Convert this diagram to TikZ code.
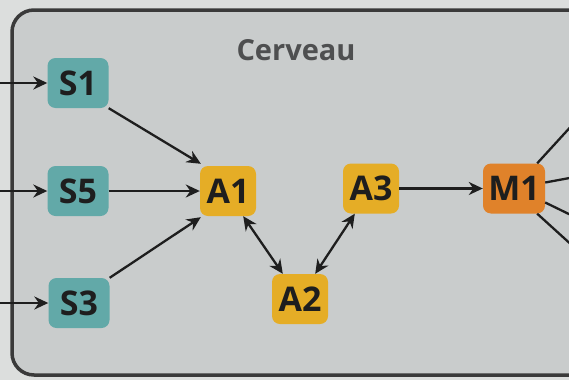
\documentclass[tikz,border=0pt]{standalone}
\usepackage{fontspec}
\setmainfont{Open Sans}
\usetikzlibrary{arrows.meta}
\definecolor{bgin}{HTML}{C9CCCC}
\definecolor{bgout}{HTML}{DCDEDD}
\definecolor{framec}{HTML}{3A3A3A}
\definecolor{tealc}{HTML}{62A9A8}
\definecolor{yellowc}{HTML}{E5AD26}
\definecolor{orangec}{HTML}{E0822A}
\definecolor{inkc}{HTML}{1E1E1E}
\definecolor{titlec}{HTML}{4E4F50}
\tikzset{
  box/.style={rounded corners=8pt, inner sep=0pt, minimum height=50pt,
    text=inkc, font=\fontsize{34}{34}\selectfont\bfseries},
  snode/.style={box, fill=tealc, minimum width=61pt},
  anode/.style={box, fill=yellowc, minimum width=56pt},
  mnode/.style={box, fill=orangec, minimum width=62pt},
  tip/.style={},
  arr/.style={draw=inkc, line width=2.3pt, -{Stealth[length=14pt,width=13pt]}},
  darr/.style={draw=inkc, line width=2.3pt, {Stealth[length=14pt,width=13pt]}-{Stealth[length=14pt,width=13pt]}},
  plain/.style={draw=inkc, line width=2.3pt}
}
\begin{document}
\begin{tikzpicture}[x=1pt,y=-1pt]
\useasboundingbox (0,0) rectangle (569,380);
\fill[bgout] (0,0) rectangle (569,380);
\begin{scope}
\clip (0,0) rectangle (569,380);
\draw[draw=framec, line width=3.5pt, fill=bgin, rounded corners=22pt] (12,10) rectangle (592,375);

\node[text=titlec, font=\fontsize{29}{29}\selectfont\bfseries] (title) at (296,50) {Cerveau};

\node[snode] (s1) at (78,83) {S1};
\node[snode] (s5) at (78,191) {S5};
\node[snode] (s3) at (79,303) {S3};
\node[anode] (a1) at (228,191) {A1};
\node[anode] (a2) at (300,299) {A2};
\node[anode] (a3) at (371,188.5) {A3};
\node[mnode] (m1) at (514,188.5) {M1};

\coordinate (i1) at (-5,83);
\coordinate (i5) at (-5,191);
\coordinate (i3) at (-5,303);
\draw[arr] (i1) -- (s1.west);
\draw[arr] (i5) -- (s5.west);
\draw[arr] (i3) -- (s3.west);

\draw[arr] (s1.south east) -- ([shift={(1pt,2pt)}]a1.north west);
\draw[arr] (s5.east) -- (a1.west);
\draw[arr] (s3.north east) -- ([shift={(1pt,-1pt)}]a1.south west);
\draw[darr] ([xshift=-13pt]a1.south east) -- ([xshift=11pt]a2.north west);
\draw[darr] ([xshift=-13pt]a2.north east) -- ([xshift=12pt]a3.south west);
\draw[arr] (a3.east) -- (m1.west);

\coordinate (o1) at (575,122);
\coordinate (o2) at (575,177);
\coordinate (o3) at (575,217);
\coordinate (o4) at (575,248);
\draw[plain] ([xshift=-8pt]m1.north east) -- (o1);
\draw[plain] ([yshift=6pt]m1.east) -- (o2);
\draw[plain] ([yshift=-14pt]m1.east) -- (o3);
\draw[plain] ([xshift=-8pt]m1.south east) -- (o4);
\end{scope}
\end{tikzpicture}
\end{document}
